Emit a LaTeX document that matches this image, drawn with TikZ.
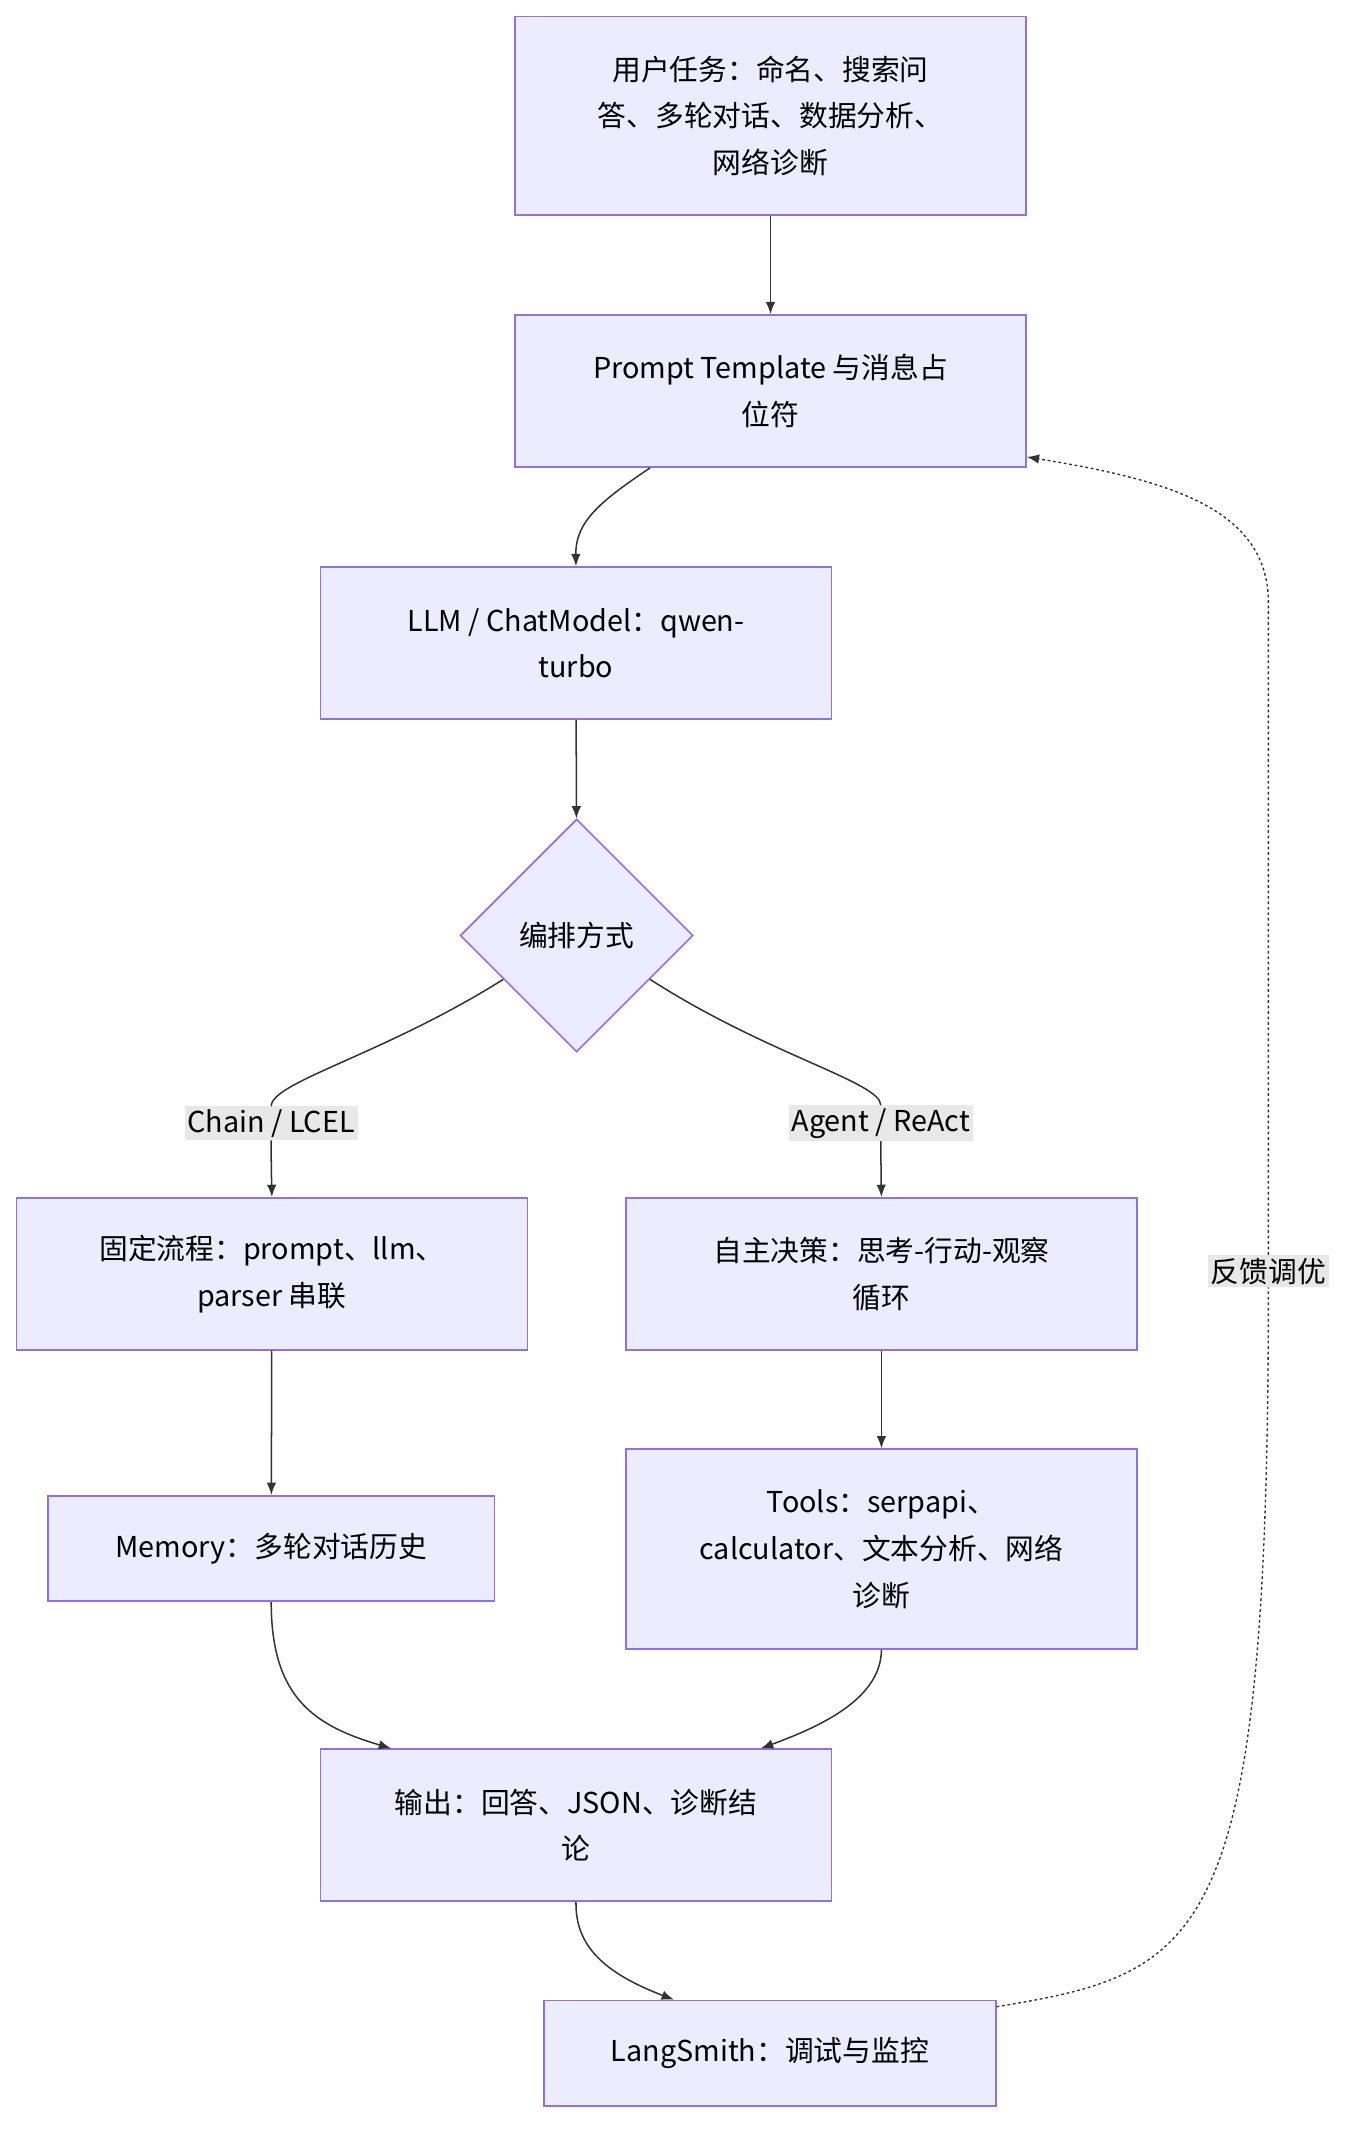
\documentclass[tikz,border=0pt]{standalone}
\usepackage{fontspec}
\setmainfont{Noto Sans CJK SC}
\usetikzlibrary{shapes.geometric,arrows.meta}
\definecolor{nfill}{HTML}{ECECFF}
\definecolor{nline}{HTML}{9370DB}
\definecolor{eline}{HTML}{333333}
\definecolor{lbg}{HTML}{E8E8E8}
\begin{document}
\begin{tikzpicture}[x=1pt,y=-1pt,
 box/.style={draw=nline,fill=nfill,line width=1.2pt,minimum width=#1,align=center,font=\fontsize{21}{34}\selectfont,inner sep=0pt},
 ed/.style={draw=eline,line width=1.1pt,-{Latex[length=9pt,width=7pt]}},
 lab/.style={fill=lbg,font=\fontsize{21}{24}\selectfont,inner sep=2pt}]
\useasboundingbox (0,0) rectangle (1000,1574);
\node[box=373pt,minimum height=145pt] (A) at (562.5,84.5) {用户任务：命名、搜索问\\答、多轮对话、数据分析、\\网络诊断};
\node[box=373pt,minimum height=111pt] (B) at (562.5,285.5) {Prompt Template 与消息占\\位符};
\node[box=373pt,minimum height=111pt] (C) at (420.5,469.5) {LLM / ChatModel：qwen-\\turbo};
\node[draw=nline,fill=nfill,line width=1.2pt,diamond,minimum width=170pt,minimum height=170pt,inner sep=0pt,font=\fontsize{21}{24}\selectfont] (D) at (421,683) {编排方式};
\node[box=373pt,minimum height=111pt] (E) at (198.5,930) {固定流程：prompt、llm、\\parser 串联};
\node[box=373pt,minimum height=111pt] (F) at (643.5,930) {自主决策：思考-行动-观察\\循环};
\node[box=326pt,minimum height=77pt] (G) at (198,1130.5) {Memory：多轮对话历史};
\node[box=373pt,minimum height=146pt] (H) at (643.5,1131) {Tools：serpapi、\\calculator、文本分析、网络\\诊断};
\node[box=373pt,minimum height=111pt] (I) at (420.5,1332.5) {输出：回答、JSON、诊断结\\论};
\node[box=330pt,minimum height=77pt] (J) at (562,1499) {LangSmith：调试与监控};
\node[lab] (L1) at (198,820) {Chain / LCEL};
\node[lab] (L2) at (643,820) {Agent / ReAct};
\node[lab] (L3) at (926,928) {反馈调优};
\draw[ed] (A) -- (B);
\draw[ed] (B.south) ++(-88,0) coordinate (b1) (b1) .. controls (440,365) and (420,380) .. (C.north);
\draw[ed] (C) -- (D);
\draw[draw=eline,line width=1.1pt] (D.west) ++(32,32) coordinate (d1) (d1) .. controls (280,770) and (198,790) .. (L1.north);
\draw[ed] (L1.south) .. controls (198,850) .. (E.north);
\draw[draw=eline,line width=1.1pt] (D.east) ++(-32,32) coordinate (d2) (d2) .. controls (560,770) and (643,790) .. (L2.north);
\draw[ed] (L2.south) .. controls (643,850) .. (F.north);
\draw[ed] (E) -- (G);
\draw[ed] (F) -- (H);
\draw[ed] (G.south) .. controls (198,1240) and (230,1260) .. ([xshift=-135pt]I.north);
\draw[ed] (H.south) .. controls (643,1240) and (600,1260) .. ([xshift=135pt]I.north);
\draw[ed] (I.south) .. controls (420,1420) and (440,1440) .. ([xshift=-70pt]J.north);
\draw[draw=eline,line width=1pt,dash pattern=on 2pt off 2pt] ([yshift=34pt]J.east) .. controls (880,1440) and (926,1420) .. (L3.south);
\draw[draw=eline,line width=1pt,dash pattern=on 2pt off 2pt,-{Latex[length=9pt,width=7pt]}] (L3.north) -- (926,440) .. controls (926,370) and (850,350) .. ([yshift=8pt]B.south east);
\end{tikzpicture}
\end{document}
